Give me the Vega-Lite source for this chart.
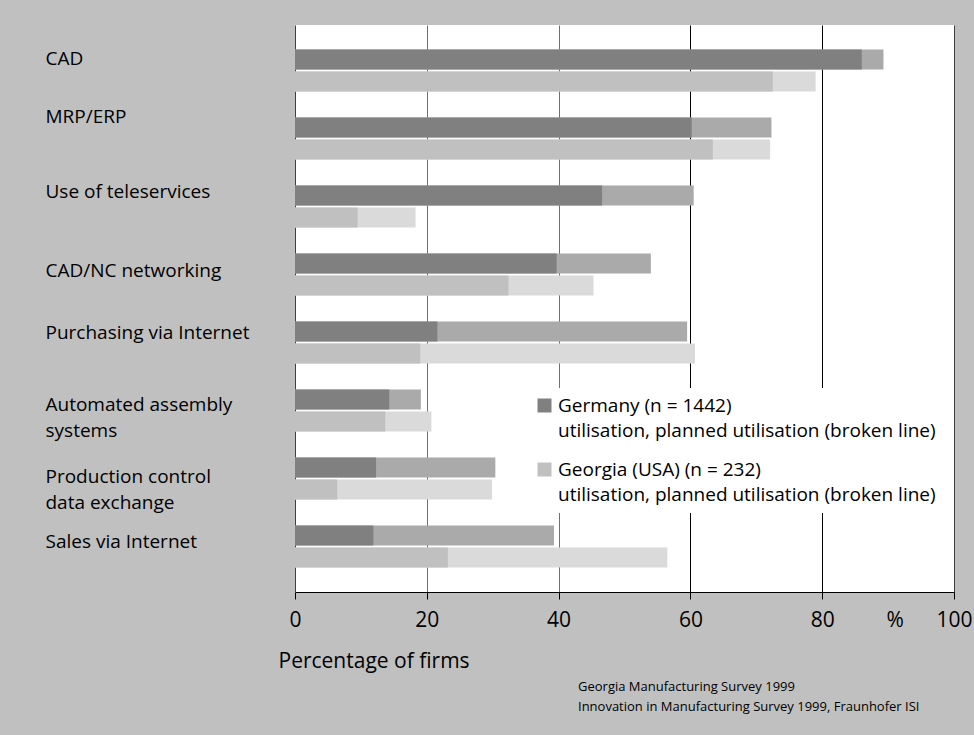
{
  "$schema": "https://vega.github.io/schema/vega-lite/v6.json",
  "autosize": {"type": "none"},
  "width": 659,
  "height": 567,
  "padding": {"left": 295, "top": 25, "right": 20, "bottom": 143},
  "background": "#c0c0c0",
  "view": {"fill": "white", "stroke": null},
  "config": {"font": "Open Sans"},
  "title": {
    "text": ["Georgia Manufacturing Survey 1999", "Innovation in Manufacturing Survey 1999, Fraunhofer ISI"],
    "orient": "bottom",
    "anchor": "start",
    "frame": "group",
    "dx": 283,
    "offset": 10,
    "fontSize": 13,
    "fontWeight": "normal",
    "lineHeight": 20,
    "color": "black"
  },
  "data": {
    "values": [
      {"activity": "CAD", "country": "Germany", "util": 86.0, "planned": 89.3},
      {"activity": "CAD", "country": "Georgia", "util": 72.5, "planned": 79.0},
      {"activity": "MRP/ERP", "country": "Germany", "util": 60.2, "planned": 72.3},
      {"activity": "MRP/ERP", "country": "Georgia", "util": 63.4, "planned": 72.1},
      {"activity": "Use of teleservices", "country": "Germany", "util": 46.6, "planned": 60.5},
      {"activity": "Use of teleservices", "country": "Georgia", "util": 9.5, "planned": 18.3},
      {"activity": "CAD/NC networking", "country": "Germany", "util": 39.7, "planned": 54.0},
      {"activity": "CAD/NC networking", "country": "Georgia", "util": 32.4, "planned": 45.3},
      {"activity": "Purchasing via Internet", "country": "Germany", "util": 21.6, "planned": 59.5},
      {"activity": "Purchasing via Internet", "country": "Georgia", "util": 19.0, "planned": 60.7},
      {"activity": "Automated assembly systems", "country": "Germany", "util": 14.3, "planned": 19.1},
      {"activity": "Automated assembly systems", "country": "Georgia", "util": 13.7, "planned": 20.7},
      {"activity": "Production control data exchange", "country": "Germany", "util": 12.3, "planned": 30.4},
      {"activity": "Production control data exchange", "country": "Georgia", "util": 6.4, "planned": 29.9},
      {"activity": "Sales via Internet", "country": "Germany", "util": 11.9, "planned": 39.3},
      {"activity": "Sales via Internet", "country": "Georgia", "util": 23.2, "planned": 56.5}
    ]
  },
  "encoding": {
    "y": {
      "field": "activity",
      "type": "nominal",
      "sort": null,
      "scale": {"paddingInner": 0, "paddingOuter": 0.169},
      "axis": {
        "title": null,
        "domain": true,
        "domainColor": "#404040",
        "ticks": false,
        "tickSize": 0,
        "labelAlign": "left",
        "labelPadding": 250,
        "labelFontSize": 19,
        "labelLineHeight": 26,
        "labelLimit": 300,
        "labelColor": "black",
        "labelExpr": "datum.value == 'Automated assembly systems' ? ['Automated assembly', 'systems'] : datum.value == 'Production control data exchange' ? ['Production control', 'data exchange'] : datum.label",
        "labelOffset": {
          "condition": [
            {"test": "datum.value == 'CAD'", "value": -11},
            {"test": "datum.value == 'MRP/ERP'", "value": -21},
            {"test": "datum.value == 'Use of teleservices'", "value": -14},
            {"test": "datum.value == 'CAD/NC networking'", "value": -3},
            {"test": "datum.value == 'Purchasing via Internet'", "value": -10},
            {"test": "datum.value == 'Automated assembly systems'", "value": -6},
            {"test": "datum.value == 'Production control data exchange'", "value": -2}
          ],
          "value": -5
        }
      }
    },
    "yOffset": {
      "field": "country",
      "type": "nominal",
      "sort": ["Germany", "Georgia"],
      "scale": {"paddingInner": 0.091, "paddingOuter": 0.59}
    }
  },
  "layer": [
    {
      "mark": {"type": "bar"},
      "encoding": {
        "x": {
          "field": "planned",
          "type": "quantitative",
          "scale": {"domain": [0, 100], "nice": false},
          "axis": {
            "values": [0, 20, 40, 60, 80, 91, 100],
            "labelExpr": "datum.value == 91 ? '%' : datum.label",
            "grid": true,
            "gridColor": {
              "condition": [
                {"test": "datum.value <= 40", "value": "#707070"},
                {"test": "datum.value == 100", "value": "#404040"}
              ],
              "value": "#000000"
            },
            "gridOpacity": {"condition": {"test": "datum.value == 91 || datum.value == 0", "value": 0}, "value": 1},
            "tickOpacity": {"condition": {"test": "datum.value == 91", "value": 0}, "value": 1},
            "tickSize": 7,
            "tickColor": "black",
            "domainColor": "black",
            "labelFontSize": 21,
            "labelPadding": 10,
            "labelColor": "black",
            "labelFlush": false,
            "labelOverlap": false,
            "title": "Percentage of firms",
            "titleFontSize": 21,
            "titleFontWeight": "normal",
            "titleAlign": "left",
            "titleAnchor": "start",
            "titleX": -17,
            "titleY": 75,
            "titleBaseline": "alphabetic",
            "titleColor": "black"
          }
        },
        "color": {
          "condition": {"test": "datum.country == 'Germany'", "value": "#aaaaaa"},
          "value": "#dadada"
        }
      }
    },
    {
      "mark": {"type": "bar"},
      "encoding": {
        "x": {"field": "util", "type": "quantitative"},
        "color": {
          "field": "country",
          "type": "nominal",
          "scale": {"domain": ["Germany", "Georgia"], "range": ["#808080", "#c0c0c0"]},
          "legend": {
            "orient": "none",
            "legendX": 232,
            "legendY": 363,
            "title": null,
            "fillColor": "white",
            "padding": 8,
            "symbolType": "square",
            "symbolSize": 196,
            "symbolStrokeWidth": 0,
            "symbolOpacity": 1,
            "labelFontSize": 19,
            "labelBaseline": "alphabetic",
            "labelOffset": 4,
            "labelLimit": 500,
            "labelColor": "black",
            "rowPadding": 19,
            "labelExpr": "datum.value == 'Germany' ? ['Germany (n = 1442)', 'utilisation, planned utilisation (broken line)'] : ['Georgia (USA) (n = 232)', 'utilisation, planned utilisation (broken line)']",
            "encode": {"labels": {"update": {"dy": {"value": 6}, "lineHeight": {"value": 25}}}}
          }
        }
      }
    }
  ]
}
